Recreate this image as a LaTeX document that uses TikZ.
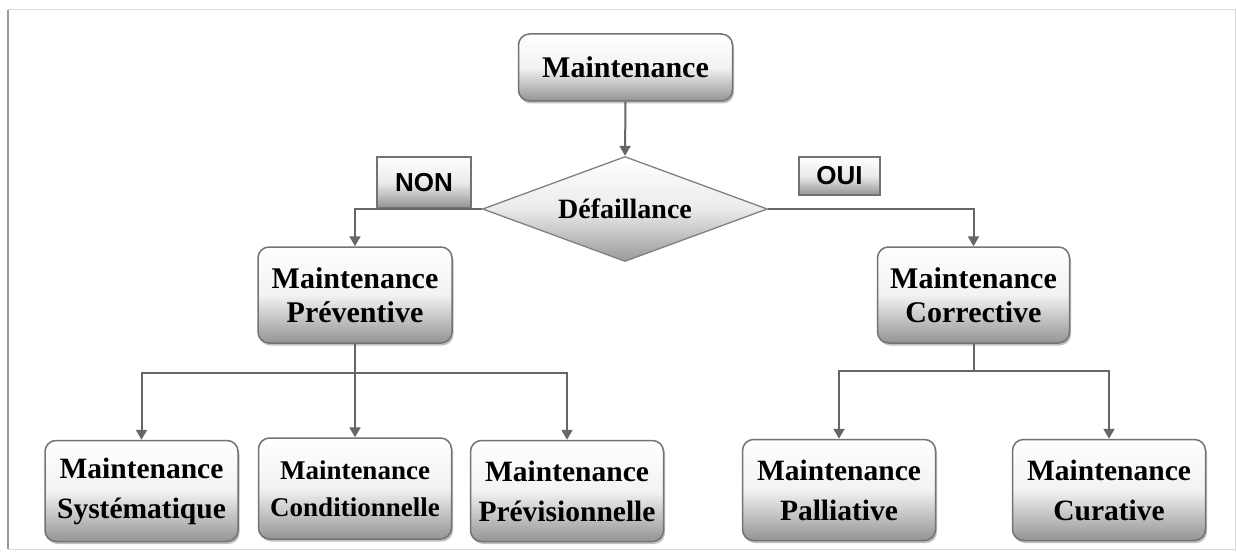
\documentclass[tikz,border=0pt]{standalone}
\usepackage{fontspec}
\setmainfont{Liberation Serif}
\newfontfamily\labfont{Liberation Sans}
\usetikzlibrary{shapes.geometric,arrows.meta,shadows}
\tikzset{
  box/.style={draw=black!55, line width=1.5pt, rounded corners=11pt,
    top color=white, bottom color=black!42, middle color=black!5,
    align=center, inner sep=0pt, font=\bfseries\fontsize{30}{34}\selectfont,
    drop shadow={shadow xshift=1.5pt, shadow yshift=-2.5pt, opacity=0.35, fill=black!70}},
  lowbox/.style={box, minimum width=193pt, minimum height=101pt, font=\bfseries\fontsize{29.5}{40}\selectfont},
  decision/.style={diamond, draw=black!50, line width=1.3pt, top color=white, bottom color=black!40,
    middle color=black!8, shape aspect=2.7, minimum width=285pt, minimum height=105pt,
    inner sep=0pt, font=\bfseries\fontsize{28}{32}\selectfont},
  answer/.style={draw=black!55, line width=1.5pt, top color=white, bottom color=black!42,
    middle color=black!8, inner sep=0pt, font=\labfont\bfseries\fontsize{26}{30}\selectfont},
  conn/.style={draw=black!60, line width=2pt},
  arr/.style={conn, -{Triangle[width=11pt,length=10pt]}}
}
\begin{document}
\begin{tikzpicture}[x=1pt,y=1pt]
\useasboundingbox (0,0) rectangle (1237,-559);
\fill[white] (0,0) rectangle (1237,-559);
\draw[black!15, line width=1pt] (8,-10) rectangle (1235,-549);
\draw[black!40, line width=2.5pt] (8,-10) -- (8,-549);

\node[box, minimum width=214pt, minimum height=67pt] (top) at (625.5,-67.5) {Maintenance};
\node[decision] (def) at (625,-209) {D\'efaillance};
\node[answer, minimum width=94pt, minimum height=51pt] (non) at (424,-182.5) {NON};
\node[answer, minimum width=81pt, minimum height=38pt] (oui) at (839.5,-176) {OUI};

\node[box, minimum width=194pt, minimum height=96pt] (prev) at (355,-295) {Maintenance\\Pr\'eventive};
\node[box, minimum width=192pt, minimum height=96pt] (corr) at (973.5,-295) {Maintenance\\Corrective};

\node[lowbox] (sys) at (141.5,-491) {Maintenance\\Syst\'ematique};
\node[lowbox, font=\bfseries\fontsize{27}{37}\selectfont] (cond) at (355,-488.5) {Maintenance\\Conditionnelle};
\node[lowbox] (previs) at (567,-491) {Maintenance\\Pr\'evisionnelle};
\node[lowbox] (pall) at (839,-490) {Maintenance\\Palliative};
\node[lowbox] (cur) at (1109,-490) {Maintenance\\Curative};

\draw[arr] (top.south) -- (def.north);
\draw[arr] (def.west) -| (prev.north);
\draw[arr] (def.east) -| (corr.north);

\draw[conn] (prev.south) -- ++(0,-29) coordinate (j1);
\draw[arr] (j1) -| (sys.north);
\draw[arr] (j1) -- (cond.north);
\draw[arr] (j1) -| (previs.north);

\draw[conn] (corr.south) -- ++(0,-27) coordinate (j2);
\draw[arr] (j2) -| (pall.north);
\draw[arr] (j2) -| (cur.north);
\end{tikzpicture}
\end{document}
